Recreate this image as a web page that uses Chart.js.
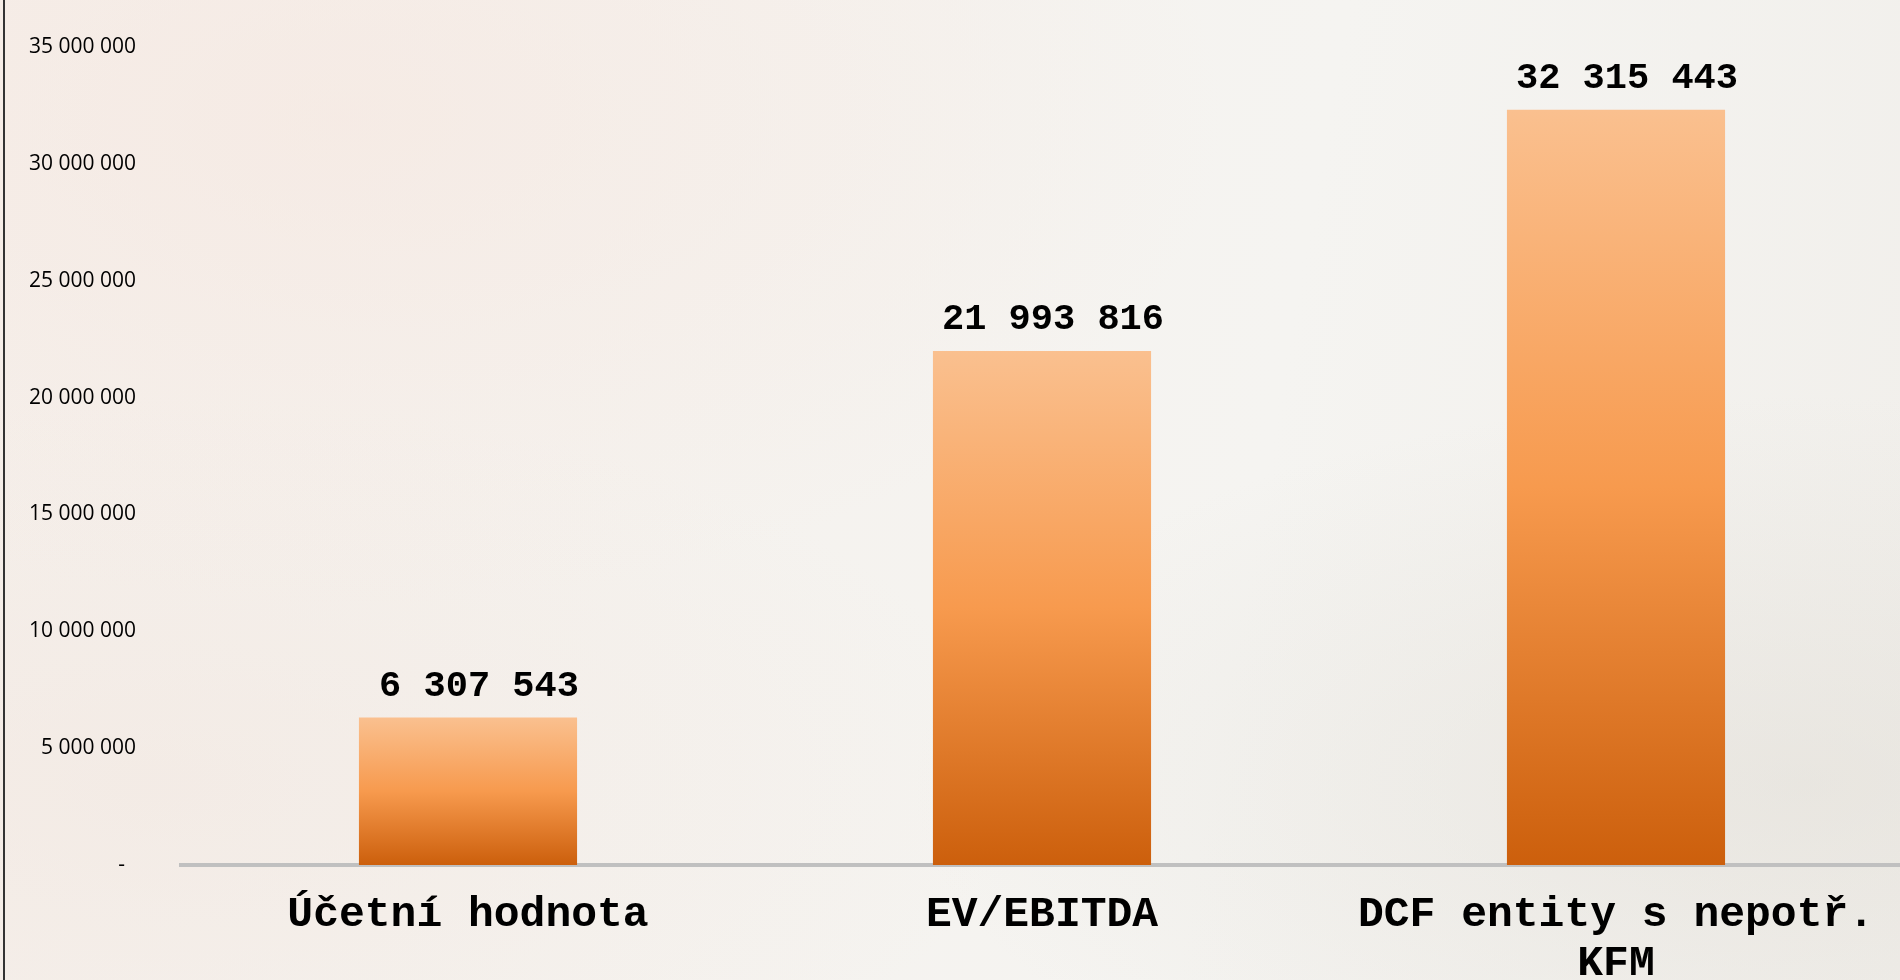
<!DOCTYPE html>
<html lang="cs">
<head>
<meta charset="UTF-8">
<title>Ocenění</title>
<script src="https://cdn.jsdelivr.net/npm/chart.js"></script>
<style>
  html, body { margin: 0; padding: 0; }
  body {
    width: 1900px; height: 980px; overflow: hidden;
    background:
      radial-gradient(ellipse at 18% 12%, rgba(246,228,220,0.45), rgba(246,228,220,0) 40%),
      radial-gradient(ellipse at 8% 80%, rgba(240,226,218,0.35), rgba(240,226,218,0) 35%),
      radial-gradient(ellipse at 95% 80%, rgba(222,218,210,0.45), rgba(222,218,210,0) 35%),
      linear-gradient(100deg, #f5efea 0%, #f5f2ee 35%, #f5f4f1 65%, #f1efeb 100%);
  }
  .frame { position: absolute; left: 3px; top: 0; width: 0; height: 980px; border-left: 2px solid #333; }
  .wrap { position: absolute; left: 0; top: 0; width: 1900px; height: 980px; overflow: hidden; }
</style>
</head>
<body>
<div class="frame"></div>
<div class="wrap"><canvas id="valChart" width="1903" height="980"></canvas></div>
<script>
  // categories and values (CZK)
  const categories = ['Účetní hodnota', 'EV/EBITDA', ['DCF entity s nepotř.', 'KFM']];
  const values = [6307543, 21993816, 32315443];
  const yMax = 35000000;
  const yStep = 5000000;

  function fmt(n) {
    return String(n).replace(/\B(?=(\d{3})+(?!\d))/g, ' ');
  }

  function barFill(ctx) {
    const chart = ctx.chart;
    if (!chart.chartArea || !chart.scales.y) return '#f79646';
    const y = chart.scales.y;
    const top = y.getPixelForValue(values[ctx.dataIndex]);
    const base = y.getPixelForValue(0);
    const g = chart.ctx.createLinearGradient(0, top, 0, base);
    g.addColorStop(0, '#fac08f');
    g.addColorStop(0.5, '#f79a4e');
    g.addColorStop(1, '#cc5f0c');
    return g;
  }

  const valueLabels = {
    id: 'valueLabels',
    afterDatasetsDraw(chart) {
      const c = chart.ctx;
      const meta = chart.getDatasetMeta(0);
      c.save();
      c.font = 'bold 37px "Liberation Mono", "Courier New", monospace';
      c.fillStyle = '#000';
      c.textAlign = 'center';
      c.textBaseline = 'alphabetic';
      meta.data.forEach((bar, i) => {
        c.fillText(fmt(values[i]), bar.x + 11, bar.y - 22);
      });
      c.restore();
    }
  };

  new Chart(document.getElementById('valChart'), {
    type: 'bar',
    data: {
      labels: categories,
      datasets: [{
        data: values,
        backgroundColor: barFill,
        borderWidth: 0,
        categoryPercentage: 1,
        barPercentage: 0.38
      }]
    },
    options: {
      responsive: false,
      animation: false,
      devicePixelRatio: 1,
      layout: { padding: { top: 47, right: 0, left: 0, bottom: 0 } },
      plugins: { legend: { display: false }, tooltip: { enabled: false } },
      scales: {
        x: {
          grid: { display: false, drawTicks: false },
          border: { display: true, color: '#c0c0c0', width: 4 },
          ticks: {
            color: '#000',
            padding: 26,
            maxRotation: 0,
            autoSkip: false,
            font: { family: '"Liberation Mono", "Courier New", monospace', size: 43, weight: 'bold', lineHeight: 1.14 }
          },
          afterFit(scale) {
            scale.height = 115;
            scale.paddingLeft = 0; scale.paddingRight = 0;
            scale.paddingTop = 0; scale.paddingBottom = 0;
          }
        },
        y: {
          min: 0,
          max: yMax,
          grid: { display: false, drawTicks: false },
          border: { display: false },
          ticks: {
            stepSize: yStep,
            color: '#000',
            padding: 45,
            font: { family: '"Open Sans", "Liberation Sans", sans-serif', size: 21 },
            callback: v => v === 0 ? '-  ' : fmt(v)
          },
          afterFit(scale) {
            scale.width = 181;
            scale.paddingTop = 0; scale.paddingBottom = 0;
          }
        }
      }
    },
    plugins: [valueLabels]
  });
</script>
</body>
</html>
